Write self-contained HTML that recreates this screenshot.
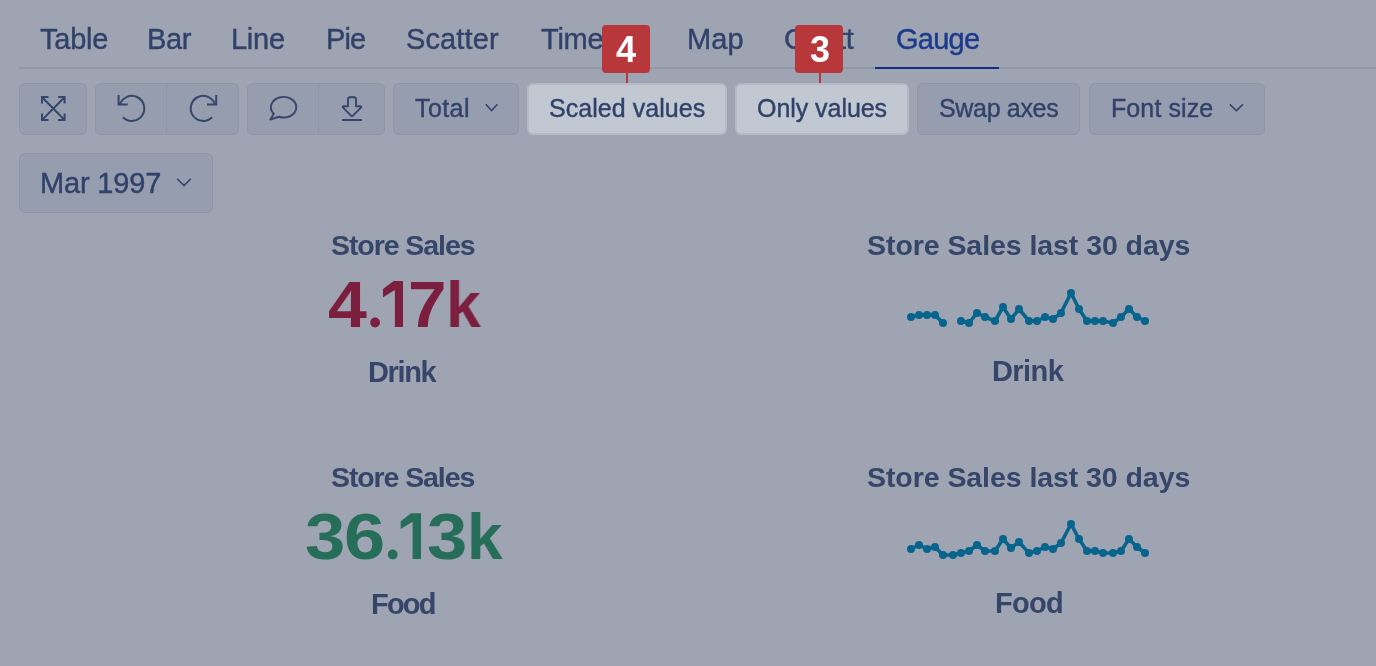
<!DOCTYPE html>
<html>
<head>
<meta charset="utf-8">
<style>
html,body{margin:0;padding:0;}
body{width:1376px;height:666px;overflow:hidden;position:relative;background:#9ea4b1;font-family:"Liberation Sans",sans-serif;color:#35466a;}
.t{position:absolute;white-space:nowrap;line-height:1;will-change:transform;}
.sep{position:absolute;left:19px;right:0;top:67px;height:2px;background:#9199a9;}
.uline{position:absolute;left:875px;width:124px;top:67px;height:2px;background:#0f2e8a;}
.btn{position:absolute;top:83px;height:52px;box-sizing:border-box;border:1.5px solid #8d96a8;background:#959dae;border-radius:6px;}
.hl{background:#c2c8d2;border:2px solid #b3bac6;}
.dv{position:absolute;top:84px;height:50px;width:1.5px;background:#8d96a8;}
.badge{position:absolute;top:25px;width:48px;height:48px;background:#b8373a;border-radius:4px;}
.stem{position:absolute;top:72px;height:11px;width:2px;background:#b8373a;}
svg{position:absolute;overflow:visible;}
</style>
</head>
<body>
<div class="sep"></div>
<div class="uline"></div>
<div class="btn" style="left:19px;width:68px"></div>
<div class="btn" style="left:95px;width:144px"></div>
<div class="dv" style="left:165.5px"></div>
<div class="btn" style="left:247px;width:138px"></div>
<div class="dv" style="left:317.5px"></div>
<div class="btn" style="left:393px;width:126px"></div>
<div class="btn hl" style="left:527px;width:200px"></div>
<div class="btn hl" style="left:735px;width:174px"></div>
<div class="btn" style="left:917px;width:163px"></div>
<div class="btn" style="left:1089px;width:176px"></div>
<div class="btn" style="left:19px;top:153px;width:194px;height:60px"></div>
<div class="t" style="left:40.00px;top:25.47px;font-size:29px;font-weight:400;color:#31426a;letter-spacing:-0.250px;-webkit-text-stroke:0.4px #31426a">Table</div>
<div class="t" style="left:147.00px;top:25.47px;font-size:29px;font-weight:400;color:#31426a;letter-spacing:-0.400px;-webkit-text-stroke:0.4px #31426a">Bar</div>
<div class="t" style="left:231.40px;top:25.47px;font-size:29px;font-weight:400;color:#31426a;letter-spacing:-0.267px;-webkit-text-stroke:0.4px #31426a">Line</div>
<div class="t" style="left:325.80px;top:25.47px;font-size:29px;font-weight:400;color:#31426a;letter-spacing:-0.950px;-webkit-text-stroke:0.4px #31426a">Pie</div>
<div class="t" style="left:405.80px;top:25.47px;font-size:29px;font-weight:400;color:#31426a;letter-spacing:0.117px;-webkit-text-stroke:0.4px #31426a">Scatter</div>
<div class="t" style="left:540.60px;top:25.47px;font-size:29px;font-weight:400;color:#31426a;letter-spacing:-0.250px;-webkit-text-stroke:0.4px #31426a">Timeline</div>
<div class="t" style="left:686.60px;top:25.47px;font-size:29px;font-weight:400;color:#31426a;letter-spacing:0.150px;-webkit-text-stroke:0.4px #31426a">Map</div>
<div class="t" style="left:783.70px;top:25.47px;font-size:29px;font-weight:400;color:#31426a;letter-spacing:-0.250px;-webkit-text-stroke:0.4px #31426a">Gantt</div>
<div class="t" style="left:896.20px;top:25.47px;font-size:29px;font-weight:400;color:#1b3a8c;letter-spacing:-0.750px;-webkit-text-stroke:0.4px #1b3a8c">Gauge</div>
<div class="t" style="left:414.80px;top:96.03px;font-size:25px;font-weight:400;color:#31426a;letter-spacing:0.425px;-webkit-text-stroke:0.4px #31426a">Total</div>
<div class="t" style="left:549.20px;top:96.03px;font-size:25px;font-weight:400;color:#31426a;letter-spacing:0.050px;-webkit-text-stroke:0.4px #31426a">Scaled values</div>
<div class="t" style="left:757.40px;top:96.03px;font-size:25px;font-weight:400;color:#31426a;letter-spacing:-0.050px;-webkit-text-stroke:0.4px #31426a">Only values</div>
<div class="t" style="left:939.00px;top:96.03px;font-size:25px;font-weight:400;color:#31426a;letter-spacing:-0.325px;-webkit-text-stroke:0.4px #31426a">Swap axes</div>
<div class="t" style="left:1110.80px;top:96.03px;font-size:25px;font-weight:400;color:#31426a;letter-spacing:0.100px;-webkit-text-stroke:0.4px #31426a">Font size</div>
<div class="t" style="left:40.00px;top:169.47px;font-size:29px;font-weight:400;color:#31426a;letter-spacing:-0.157px;-webkit-text-stroke:0.4px #31426a">Mar 1997</div>
<div class="t" style="left:331.00px;top:231.11px;font-size:28.5px;font-weight:700;color:#35466a;letter-spacing:-1.070px;-webkit-text-stroke:0px #35466a">Store Sales</div>
<div class="t" style="left:368.40px;top:357.70px;font-size:29px;font-weight:700;color:#35466a;letter-spacing:-1.350px;-webkit-text-stroke:0px #35466a">Drink</div>
<div class="t" style="left:331.00px;top:462.91px;font-size:28.5px;font-weight:700;color:#35466a;letter-spacing:-1.100px;-webkit-text-stroke:0px #35466a">Store Sales</div>
<div class="t" style="left:371.20px;top:589.70px;font-size:29px;font-weight:700;color:#35466a;letter-spacing:-1.800px;-webkit-text-stroke:0px #35466a">Food</div>
<div class="t" style="left:866.60px;top:231.11px;font-size:28.5px;font-weight:700;color:#35466a;letter-spacing:-0.061px;-webkit-text-stroke:0px #35466a">Store Sales last 30 days</div>
<div class="t" style="left:992.00px;top:357.10px;font-size:29px;font-weight:700;color:#35466a;letter-spacing:-0.575px;-webkit-text-stroke:0px #35466a">Drink</div>
<div class="t" style="left:867.00px;top:462.91px;font-size:28.5px;font-weight:700;color:#35466a;letter-spacing:-0.065px;-webkit-text-stroke:0px #35466a">Store Sales last 30 days</div>
<div class="t" style="left:994.60px;top:589.30px;font-size:29px;font-weight:700;color:#35466a;letter-spacing:-0.733px;-webkit-text-stroke:0px #35466a">Food</div>
<div class="t" style="left:327.81px;top:272.90px;font-size:64px;font-weight:700;color:#7c1f3f;transform:scaleX(1.0912);transform-origin:0 0">4</div>
<div class="t" style="left:408.45px;top:272.90px;font-size:64px;font-weight:700;color:#7c1f3f;transform:scaleX(1.0833);transform-origin:0 0">7</div>
<div class="t" style="left:445.79px;top:272.90px;font-size:64px;font-weight:700;color:#7c1f3f;transform:scaleX(0.9774);transform-origin:0 0">k</div>
<div class="t" style="left:304.64px;top:505.20px;font-size:64px;font-weight:700;color:#266d5a;transform:scaleX(1.1323);transform-origin:0 0">3</div>
<div class="t" style="left:344.18px;top:505.20px;font-size:64px;font-weight:700;color:#266d5a;transform:scaleX(1.1581);transform-origin:0 0">6</div>
<div class="t" style="left:427.44px;top:505.20px;font-size:64px;font-weight:700;color:#266d5a;transform:scaleX(1.1323);transform-origin:0 0">3</div>
<div class="t" style="left:466.65px;top:505.20px;font-size:64px;font-weight:700;color:#266d5a;transform:scaleX(0.9871);transform-origin:0 0">k</div>
<svg width="1376" height="666" style="left:0;top:0"><path fill="#7c1f3f" d="M403 281.1 L393.6 281.1 L383 289 L383 297.3 L394.9 289.9 L394.9 327 L403 327 Z"/><circle fill="#7c1f3f" cx="375.1" cy="322.5" r="4.9"/><path fill="#266d5a" d="M421 513.3 L411 513.3 L400.7 521.2 L400.7 529.1 L412.6 521.7 L412.6 559 L421 559 Z"/><circle fill="#266d5a" cx="392.7" cy="554.5" r="4.9"/></svg>
<svg width="1376" height="666" style="left:0;top:0" fill="none" stroke="#35466a" stroke-width="2.4" stroke-linecap="butt" stroke-linejoin="miter">
<path d="M42.6 97.7 L64 119.4 M64 97.7 L42.6 119.4" stroke-width="2.0"/>
<path d="M42 103.6 V97.1 H48.5 M58.1 97.1 H64.6 V103.6 M64.6 113.5 V120 H58.1 M48.5 120 H42 V113.5" stroke-width="2.0"/>
<path d="M119.9 104.5 A12.5 12.5 0 1 1 122.96 117.24" stroke-width="2.0"/>
<path d="M118.6 95 V104.4 H127.8" stroke-width="2.0"/>
<path d="M215.1 104.5 A12.5 12.5 0 1 0 212.04 117.24" stroke-width="2.0"/>
<path d="M216.2 95 V104.4 H207" stroke-width="2.0"/>
<path d="M273.87 113.82 A12.7 10.3 0 1 1 278.84 116.75 L270.4 119.6 Z" stroke-width="1.9" stroke-linejoin="round"/>
<path d="M348 106.3 V99.3 Q348 97.3 350 97.3 H354 Q356 97.3 356 99.3 V106.3 H360.3 Q362 106.3 360.9 107.7 L353 115.6 Q352 116.6 351 115.6 L343.1 107.7 Q342 106.3 343.7 106.3 Z" stroke-width="1.9" stroke-linejoin="round"/>
<path d="M342 120 H362" stroke-width="2.0"/>
<path d="M485.8 104.3 L491.6 110.6 L497.4 104.3" stroke-width="1.6"/>
<path d="M1229.8 104.3 L1236.4 110.6 L1243 104.3" stroke-width="1.6"/>
<path d="M177.2 178.8 L184 185.6 L190.8 178.8" stroke-width="1.6"/>
</svg>
<svg width="1376" height="666" style="left:0;top:0" fill="#06648d" stroke="none">
<g fill="none" stroke="#06648d" stroke-width="3.6" stroke-linejoin="round"><polyline points="911,317 919,315 927,315 935,315 943,323"/><polyline points="961,321 969,323 977,313 985,317 995,321 1003,307 1011,319 1019,309 1029,321 1037,321 1045,317 1053,319 1061,313 1071,293 1079,309 1087,321 1095,321 1103,321 1113,323 1121,317 1129,309 1137,317 1145,321"/><polyline points="911,549 919,545 927,549 935,547 943,555 953,555 961,553 969,551 977,545 985,551 995,551 1003,539 1011,548 1019,542 1029,553 1037,551 1045,547 1053,549 1061,543 1071,524 1079,539 1087,551 1095,551 1103,553 1113,553 1121,551 1129,539 1137,547 1145,553"/></g>
<circle cx="911" cy="317" r="4"/><circle cx="919" cy="315" r="4"/><circle cx="927" cy="315" r="4"/><circle cx="935" cy="315" r="4"/><circle cx="943" cy="323" r="4"/><circle cx="961" cy="321" r="4"/><circle cx="969" cy="323" r="4"/><circle cx="977" cy="313" r="4"/><circle cx="985" cy="317" r="4"/><circle cx="995" cy="321" r="4"/><circle cx="1003" cy="307" r="4"/><circle cx="1011" cy="319" r="4"/><circle cx="1019" cy="309" r="4"/><circle cx="1029" cy="321" r="4"/><circle cx="1037" cy="321" r="4"/><circle cx="1045" cy="317" r="4"/><circle cx="1053" cy="319" r="4"/><circle cx="1061" cy="313" r="4"/><circle cx="1071" cy="293" r="4"/><circle cx="1079" cy="309" r="4"/><circle cx="1087" cy="321" r="4"/><circle cx="1095" cy="321" r="4"/><circle cx="1103" cy="321" r="4"/><circle cx="1113" cy="323" r="4"/><circle cx="1121" cy="317" r="4"/><circle cx="1129" cy="309" r="4"/><circle cx="1137" cy="317" r="4"/><circle cx="1145" cy="321" r="4"/><circle cx="911" cy="549" r="4"/><circle cx="919" cy="545" r="4"/><circle cx="927" cy="549" r="4"/><circle cx="935" cy="547" r="4"/><circle cx="943" cy="555" r="4"/><circle cx="953" cy="555" r="4"/><circle cx="961" cy="553" r="4"/><circle cx="969" cy="551" r="4"/><circle cx="977" cy="545" r="4"/><circle cx="985" cy="551" r="4"/><circle cx="995" cy="551" r="4"/><circle cx="1003" cy="539" r="4"/><circle cx="1011" cy="548" r="4"/><circle cx="1019" cy="542" r="4"/><circle cx="1029" cy="553" r="4"/><circle cx="1037" cy="551" r="4"/><circle cx="1045" cy="547" r="4"/><circle cx="1053" cy="549" r="4"/><circle cx="1061" cy="543" r="4"/><circle cx="1071" cy="524" r="4"/><circle cx="1079" cy="539" r="4"/><circle cx="1087" cy="551" r="4"/><circle cx="1095" cy="551" r="4"/><circle cx="1103" cy="553" r="4"/><circle cx="1113" cy="553" r="4"/><circle cx="1121" cy="551" r="4"/><circle cx="1129" cy="539" r="4"/><circle cx="1137" cy="547" r="4"/><circle cx="1145" cy="553" r="4"/>
</svg>
<div class="stem" style="left:626px"></div>
<div class="badge" style="left:602px"></div>
<div class="stem" style="left:819px"></div>
<div class="badge" style="left:795px"></div>
<div class="t" style="left:616.20px;top:31.73px;font-size:36px;font-weight:700;color:#fff">4</div>
<div class="t" style="left:810.00px;top:32.13px;font-size:36px;font-weight:700;color:#fff">3</div>
</body>
</html>
